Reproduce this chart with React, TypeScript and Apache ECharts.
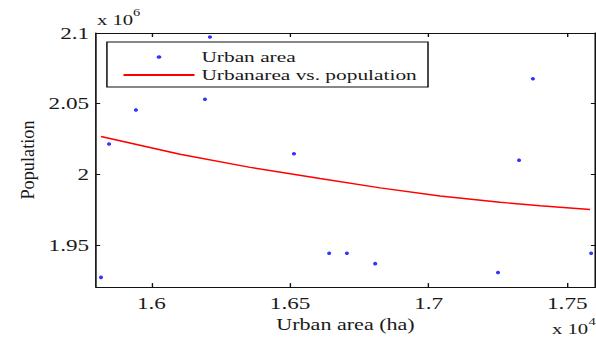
import React, { useEffect, useRef } from "react";
import * as echarts from "echarts";

// Urban area (x 10^4 ha) and population (x 10^6)
const urbanArea = [1.5818, 1.5847, 1.5944, 1.6193, 1.6211, 1.6514, 1.6641, 1.6705, 1.6807, 1.725, 1.7326, 1.7376, 1.7586];
const population = [1.9269, 2.0214, 2.0455, 2.0531, 2.0972, 2.0145, 1.944, 1.944, 1.9366, 1.9303, 2.0099, 2.0676, 1.944];

// Fitted curve: urban area vs. population
const fitArea = [1.5818, 1.6103, 1.6356, 1.6608, 1.6825, 1.7041, 1.7257, 1.7402, 1.7582];
const fitPopulation = [2.0267, 2.0141, 2.0048, 1.9969, 1.9903, 1.9845, 1.9801, 1.9776, 1.975];

const xTicks = [1.6, 1.65, 1.7, 1.75];
const yTicks = [1.95, 2, 2.05, 2.1];

const FONT = "Liberation Serif";
// the reference figure is stretched horizontally
const SX = 1.3796;
const W = 432;
const H = 338;

export default function App() {
  const ref = useRef<HTMLDivElement>(null);
  useEffect(() => {
    if (!ref.current) return;
    const chart = echarts.init(ref.current, null, { renderer: "svg" });
    const axisLine = { show: true, lineStyle: { color: "#111", width: 1.2 } };
    const xTick = { show: true, inside: true, length: 4, customValues: xTicks, lineStyle: { color: "#111" } };
    const yTick = { show: true, inside: true, length: 3, customValues: yTicks, lineStyle: { color: "#111" } };
    const option = {
      animation: false,
      backgroundColor: "#fff",
      textStyle: { fontFamily: FONT },
      grid: { left: 69.6, top: 33, right: 0.7, bottom: 44, containLabel: false },
      legend: {
        left: 77.5,
        top: 42,
        orient: "vertical",
        borderColor: "#111",
        borderWidth: 1.1,
        borderRadius: 0,
        padding: [7, 8, 4, 11],
        itemGap: 2,
        itemWidth: 51.5,
        itemHeight: 3.5,
        textStyle: { fontFamily: FONT, fontSize: 15.5, color: "#1a1a1a" },
        data: [
          { name: "Urban area", icon: "circle" },
          { name: "Urbanarea vs. population", itemStyle: { opacity: 0 } },
        ],
      },
      xAxis: [
        {
          type: "value",
          min: 1.58,
          max: 1.76,
          position: "bottom",
          name: "Urban area (ha)",
          nameLocation: "middle",
          nameGap: 23,
          nameTextStyle: { fontFamily: FONT, fontSize: 16, color: "#1a1a1a" },
          axisLine,
          axisTick: xTick,
          axisLabel: { customValues: xTicks, fontFamily: FONT, fontSize: 16.8, color: "#1a1a1a", margin: 8 },
          splitLine: { show: false },
        },
        {
          type: "value",
          min: 1.58,
          max: 1.76,
          position: "top",
          axisLine,
          axisTick: xTick,
          axisLabel: { show: false },
          splitLine: { show: false },
        },
      ],
      yAxis: [
        {
          type: "value",
          min: 1.92,
          max: 2.1,
          position: "left",
          axisLine,
          axisTick: yTick,
          axisLabel: { customValues: yTicks, fontFamily: FONT, fontSize: 16.8, color: "#1a1a1a", margin: 5 },
          splitLine: { show: false },
        },
        {
          type: "value",
          min: 1.92,
          max: 2.1,
          position: "right",
          axisLine,
          axisTick: yTick,
          axisLabel: { show: false },
          splitLine: { show: false },
        },
      ],
      graphic: [
        {
          type: "text",
          x: 27.5 / SX,
          y: 160,
          rotation: Math.PI / 2,
          scaleY: 1 / SX,
          style: { text: "Population", fontFamily: FONT, fontSize: 18.3, fill: "#1a1a1a", align: "center", verticalAlign: "middle" },
        },
        { type: "text", left: 97 / SX, top: 13, style: { text: "x 10", fontFamily: FONT, fontSize: 15, fill: "#1a1a1a" } },
        { type: "text", left: 133 / SX, top: 7, style: { text: "6", fontFamily: FONT, fontSize: 10.5, fill: "#1a1a1a" } },
        { type: "text", left: 552 / SX, top: 322, style: { text: "x 10", fontFamily: FONT, fontSize: 15, fill: "#1a1a1a" } },
        { type: "text", left: 588.5 / SX, top: 316, style: { text: "4", fontFamily: FONT, fontSize: 10.5, fill: "#1a1a1a" } },
      ],
      series: [
        {
          name: "Urban area",
          type: "scatter",
          symbol: "circle",
          symbolSize: [3, 3.6],
          itemStyle: { color: "#0000ff" },
          data: urbanArea.map((x, i) => [x, population[i]]),
          z: 3,
        },
        {
          name: "Urbanarea vs. population",
          type: "line",
          smooth: false,
          symbol: "none",
          showSymbol: false,
          lineStyle: { color: "#ff0000", width: 1.4 },
          itemStyle: { color: "#ff0000" },
          data: fitArea.map((x, i) => [x, fitPopulation[i]]),
          z: 2,
        },
      ],
    };
    chart.setOption(option as any);
    return () => chart.dispose();
  }, []);
  return (
    <div
      ref={ref}
      style={{
        position: "fixed",
        left: 0,
        top: 0,
        width: W,
        height: H,
        background: "#fff",
        transform: `scaleX(${SX})`,
        transformOrigin: "0 0",
      }}
    />
  );
}
